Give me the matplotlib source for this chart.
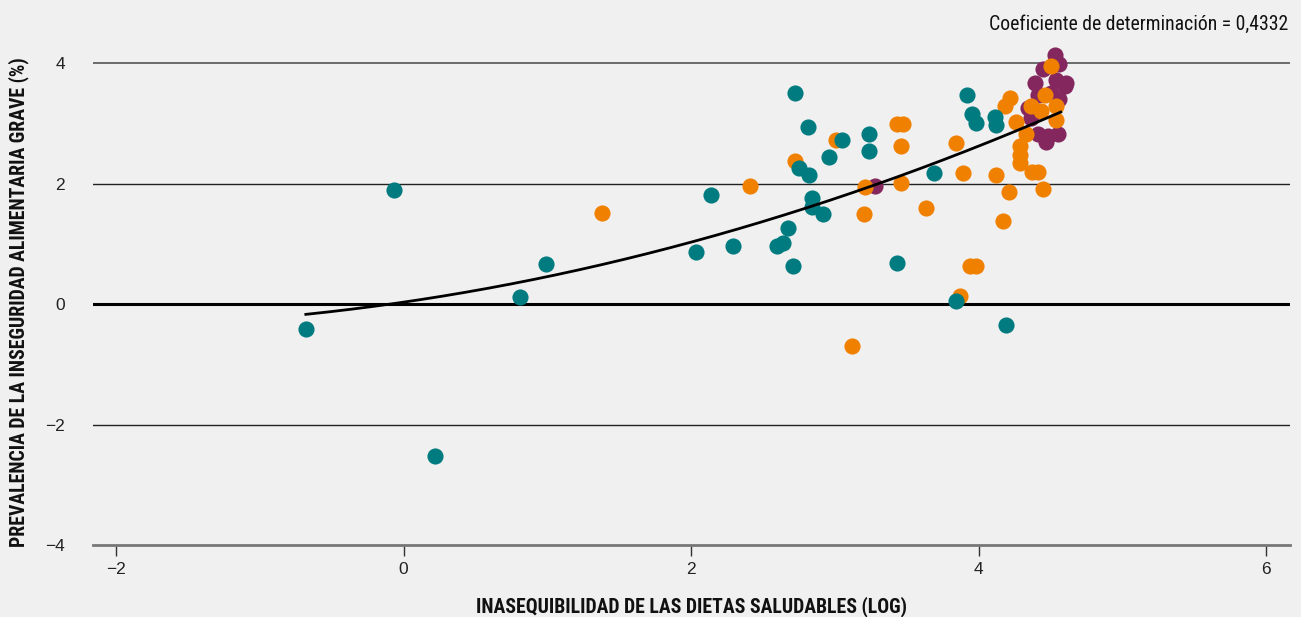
import numpy as np
import matplotlib
matplotlib.use("Agg")
from matplotlib import pyplot as plt

plt.rcParams['font.family'] = ['Liberation Sans', 'DejaVu Sans']

# scatter values: log unaffordability of healthy diets vs food insecurity
teal_x = [-0.68, -0.07, 0.22, 0.81, 0.99, 2.03, 2.14, 2.29, 2.60, 2.64, 2.67,
          2.71, 2.72, 2.75, 2.81, 2.82, 2.84, 2.84, 2.92, 2.96, 3.05, 3.24,
          3.24, 3.43, 3.69, 3.84, 3.92, 3.95, 3.98, 4.11, 4.12, 4.19]
teal_y = [-0.41, 1.90, -2.52, 0.12, 0.67, 0.87, 1.82, 0.96, 0.97, 1.02, 1.27,
          0.63, 3.51, 2.26, 2.95, 2.14, 1.77, 1.61, 1.50, 2.45, 2.72, 2.82,
          2.54, 0.69, 2.17, 0.06, 3.47, 3.16, 3.01, 3.11, 2.97, -0.34]

orange_x = [1.38, 2.41, 2.72, 3.01, 3.12, 3.20, 3.21, 3.43, 3.47, 3.46, 3.46,
            3.63, 3.84, 3.87, 3.89, 3.94, 3.98, 4.12, 4.17, 4.18, 4.21, 4.22,
            4.26, 4.29, 4.29, 4.29, 4.33, 4.36, 4.37, 4.41, 4.43, 4.45, 4.46,
            4.50, 4.54, 4.54]
orange_y = [1.52, 1.97, 2.37, 2.73, -0.69, 1.49, 1.94, 2.99, 2.99, 2.62, 2.02,
            1.60, 2.68, 0.13, 2.17, 0.64, 0.64, 2.15, 1.38, 3.29, 1.86, 3.42,
            3.02, 2.62, 2.48, 2.35, 2.82, 3.29, 2.19, 2.19, 3.20, 1.91, 3.48,
            3.95, 3.29, 3.06]

purple_x = [3.28, 4.34, 4.36, 4.39, 4.41, 4.41, 4.45, 4.47, 4.48, 4.53, 4.54,
            4.55, 4.56, 4.56, 4.60, 4.61, 4.50]
purple_y = [1.96, 3.26, 3.09, 3.67, 3.48, 2.82, 3.90, 2.70, 2.79, 4.14, 3.73,
            2.82, 3.98, 3.40, 3.63, 3.67, 3.50]

# quadratic trend y = a + b*x + c*x^2
trend_coef = [0.033, 0.349, 0.0748]
trend_range = [-0.68, 4.57]

x_ticks = [-2, 0, 2, 4, 6]
y_ticks = [-4, -2, 0, 2, 4]

bg = "#f0f0f0"
teal = "#007b7f"
orange = "#f08000"
purple = "#84275f"
cond = ["Roboto Condensed", "DejaVu Sans"]

fig = plt.figure(figsize=(13.01, 6.17), dpi=100, facecolor=bg)
ax = fig.add_axes([0.0715, 0.1167, 0.92, 0.81])
ax.set_facecolor(bg)

ax.set_xlim(-2.16, 6.164)
ax.set_ylim(-4, 4.3)

for v in y_ticks[1:]:
    if v == 0:
        ax.axhline(v, color="black", lw=2.2, zorder=1)
    elif v == 4:
        ax.axhline(v, color="#555555", lw=1.2, zorder=1)
    else:
        ax.axhline(v, color="#222222", lw=1.0, zorder=1)

s = 135
ax.scatter(purple_x, purple_y, s=s, color=purple, lw=0, zorder=2, clip_on=False)
ax.scatter(orange_x, orange_y, s=s, color=orange, lw=0, zorder=3, clip_on=False)
ax.scatter(teal_x, teal_y, s=s, color=teal, lw=0, zorder=4, clip_on=False)

xs = np.linspace(trend_range[0], trend_range[1], 200)
ys = trend_coef[0] + trend_coef[1] * xs + trend_coef[2] * xs ** 2
ax.plot(xs, ys, color="black", lw=2, zorder=5)

for side in ["top", "right", "left"]:
    ax.spines[side].set_visible(False)
ax.spines["bottom"].set_color("#777777")
ax.spines["bottom"].set_linewidth(2)

ax.set_xticks(x_ticks)
ax.set_yticks(y_ticks)
ax.set_xticklabels([str(t).replace("-", "\u2212") for t in x_ticks])
ax.set_yticklabels([str(t).replace("-", "\u2212") for t in y_ticks])
ax.tick_params(axis="x", length=8, width=1, color="#333333", pad=4,
               labelsize=12.5, labelcolor="#222222")
ax.tick_params(axis="y", length=0, pad=20, labelsize=12.5, labelcolor="#222222")

fig.text(0.014, 0.51, "PREVALENCIA DE LA INSEGURIDAD ALIMENTARIA GRAVE (%)",
         rotation=90, ha="center", va="center", fontsize=14.2,
         fontweight="bold", family=cond, color="#111111")
fig.text(0.5315, 0.016, "INASEQUIBILIDAD DE LAS DIETAS SALUDABLES (LOG)",
         ha="center", va="center", fontsize=14.2, fontweight="bold",
         family=cond, color="#111111")
fig.text(0.990, 0.961, "Coeficiente de determinación = 0,4332",
         ha="right", va="center", fontsize=14.2, family=cond, color="#111111")

fig.savefig("out.png", dpi=100, facecolor=bg)
